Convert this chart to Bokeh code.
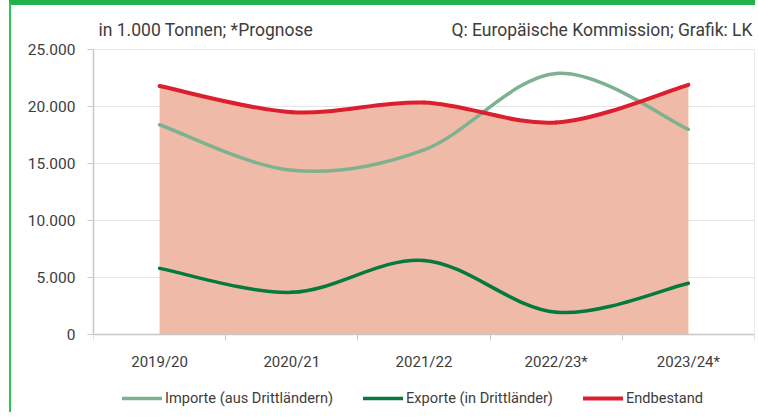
import numpy as np
from bokeh.plotting import figure
from bokeh.models import (Range1d, FixedTicker, Legend, LegendItem, ColumnDataSource,
                          Label, LinearAxis)
from bokeh.embed import file_html
from bokeh.resources import INLINE

# ---- data ----
categories = ["2019/20", "2020/21", "2021/22", "2022/23*", "2023/24*"]
importe = [18400, 14400, 16200, 22900, 18000]
exporte = [5800, 3700, 6500, 1950, 4500]
endbestand = [21800, 19500, 20350, 18600, 21900]
y_ticks = [0, 5000, 10000, 15000, 20000, 25000]
series_names = ["Importe (aus Drittländern)", "Exporte (in Drittländer)", "Endbestand"]
unit_note = "in 1.000 Tonnen; *Prognose"
source_note = "Q: Europäische Kommission; Grafik: LK"

FONT = "Roboto"
TEXT = "#3d3d3d"
C_IMP = "#7db291"
C_EXP = "#047a3d"
C_END = "#dc1f2e"
C_FILL = "#f0baa8"
C_AXIS = "#c8c8c8"

# ---- layout geometry (pixels) ----
W, H = 746, 412            # canvas size (inside the CSS borders)
PLOT_TOP, PLOT_BOTTOM = 44, 329   # pixel rows of the value 25.000 and 0 inside the canvas
FRAME_LEFT, FRAME_RIGHT = 82, 743

xs = [i + 0.5 for i in range(len(categories))]

k = (PLOT_BOTTOM - PLOT_TOP) / (y_ticks[-1] - y_ticks[0])   # px per unit
y_lo = y_ticks[0] - (H - PLOT_BOTTOM) / k
y_hi = y_ticks[-1] + PLOT_TOP / k


def bezier_segments(x, y):
    """Smooth (Excel-like) cubic Bezier segments through the data points."""
    n = len(x)

    def P(i):
        i = min(max(i, 0), n - 1)
        return x[i], y[i]

    out = dict(x0=[], y0=[], x1=[], y1=[], cx0=[], cy0=[], cx1=[], cy1=[])
    for i in range(n - 1):
        xa, ya = P(i)
        xb, yb = P(i + 1)
        xp, yp = P(i - 1)
        xn, yn = P(i + 2)
        out["x0"].append(xa)
        out["y0"].append(ya)
        out["x1"].append(xb)
        out["y1"].append(yb)
        out["cx0"].append(xa + (xb - xp) / 6)
        out["cy0"].append(ya + (yb - yp) / 6)
        out["cx1"].append(xb - (xn - xa) / 6)
        out["cy1"].append(yb - (yn - ya) / 6)
    return out


def sample_bezier(seg, n=40):
    t = np.linspace(0, 1, n)
    px, py = [], []
    for i in range(len(seg["x0"])):
        a = (1 - t) ** 3
        b = 3 * (1 - t) ** 2 * t
        c = 3 * (1 - t) * t ** 2
        d = t ** 3
        bx = a * seg["x0"][i] + b * seg["cx0"][i] + c * seg["cx1"][i] + d * seg["x1"][i]
        by = a * seg["y0"][i] + b * seg["cy0"][i] + c * seg["cy1"][i] + d * seg["y1"][i]
        if i > 0:
            bx, by = bx[1:], by[1:]
        px.extend(bx.tolist())
        py.extend(by.tolist())
    return px, py


p = figure(width=W, height=H,
           x_range=Range1d(0, len(categories)), y_range=Range1d(y_lo, y_hi),
           output_backend="svg", toolbar_location=None, title=None,
           min_border_left=FRAME_LEFT, min_border_right=W - FRAME_RIGHT,
           min_border_top=0, min_border_bottom=0)
p.margin = (0, 0, 0, 9)
p.styles = {"border-top": "5px solid #22b24c", "border-left": "2px solid #2cc64c"}

p.background_fill_color = "white"
p.border_fill_color = "white"
p.outline_line_color = None

# area under Endbestand
seg_end = bezier_segments(xs, endbestand)
fx, fy = sample_bezier(seg_end)
p.varea(x=fx, y1=0, y2=fy, fill_color=C_FILL, fill_alpha=1.0)

seg_imp = bezier_segments(xs, importe)
seg_exp = bezier_segments(xs, exporte)
r_imp = p.bezier(source=ColumnDataSource(seg_imp), x0="x0", y0="y0", x1="x1", y1="y1",
                 cx0="cx0", cy0="cy0", cx1="cx1", cy1="cy1",
                 line_color=C_IMP, line_width=3.5, line_cap="round")
r_exp = p.bezier(source=ColumnDataSource(seg_exp), x0="x0", y0="y0", x1="x1", y1="y1",
                 cx0="cx0", cy0="cy0", cx1="cx1", cy1="cy1",
                 line_color=C_EXP, line_width=3.5, line_cap="round")
r_end = p.bezier(source=ColumnDataSource(seg_end), x0="x0", y0="y0", x1="x1", y1="y1",
                 cx0="cx0", cy0="cy0", cx1="cx1", cy1="cy1",
                 line_color=C_END, line_width=4, line_cap="round")

# x axis, pinned at value 0
xa = p.xaxis[0]
xa.fixed_location = 0
xa.ticker = FixedTicker(ticks=xs, minor_ticks=list(range(len(categories) + 1)))
xa.major_label_overrides = {x: c for x, c in zip(xs, categories)}
xa.major_tick_out = 0
xa.major_tick_in = 0
xa.minor_tick_out = 6
xa.minor_tick_in = 0
xa.minor_tick_line_color = C_AXIS
xa.axis_line_color = C_AXIS
xa.axis_line_width = 1.5
xa.major_label_text_font = FONT
xa.major_label_text_font_size = "15px"
xa.major_label_text_color = TEXT
xa.major_label_standoff = 12

# y axis, limited to the value span
ya = p.yaxis[0]
ya.bounds = (y_ticks[0], y_ticks[-1])
ya.ticker = FixedTicker(ticks=y_ticks, minor_ticks=[])
ya.major_label_overrides = {v: f"{v:,}".replace(",", ".") for v in y_ticks}
ya.major_tick_out = 6
ya.major_tick_in = 0
ya.major_tick_line_color = C_AXIS
ya.axis_line_color = C_AXIS
ya.axis_line_width = 1.5
ya.major_label_text_font = FONT
ya.major_label_text_font_size = "15.5px"
ya.major_label_text_color = TEXT
ya.major_label_standoff = 12

# right border of the plot area
rb = LinearAxis(fixed_location=len(categories), bounds=(y_ticks[0], y_ticks[-1]),
                ticker=FixedTicker(ticks=[]), major_tick_out=0, major_tick_in=0,
                axis_line_color="#d6d6d6", axis_line_width=1)
p.add_layout(rb, "right")

p.xgrid.grid_line_color = None
p.ygrid.grid_line_color = "#e6e6e6"
p.ygrid.ticker = FixedTicker(ticks=y_ticks)

# header notes (screen units relative to the plot frame)
p.add_layout(Label(x=5, y=H - 24, x_units="screen", y_units="screen", text=unit_note,
                   text_font=FONT, text_font_size="17.5px", text_color=TEXT,
                   text_baseline="alphabetic", text_align="left"))
p.add_layout(Label(x=FRAME_RIGHT - FRAME_LEFT - 2, y=H - 24, x_units="screen", y_units="screen",
                   text=source_note, text_font=FONT, text_font_size="17.5px", text_color=TEXT,
                   text_baseline="alphabetic", text_align="right"))

legend = Legend(items=[LegendItem(label=n, renderers=[r]) for n, r in
                       zip(series_names, [r_imp, r_exp, r_end])],
                location=(29, 9), orientation="horizontal",
                glyph_width=40, glyph_height=20, label_height=20,
                label_standoff=3, spacing=30, padding=0, margin=0,
                border_line_color=None, background_fill_alpha=0,
                label_text_font=FONT, label_text_font_size="14.6px",
                label_text_color=TEXT)
p.add_layout(legend)

open("out.html", "w").write(file_html(p, INLINE))
